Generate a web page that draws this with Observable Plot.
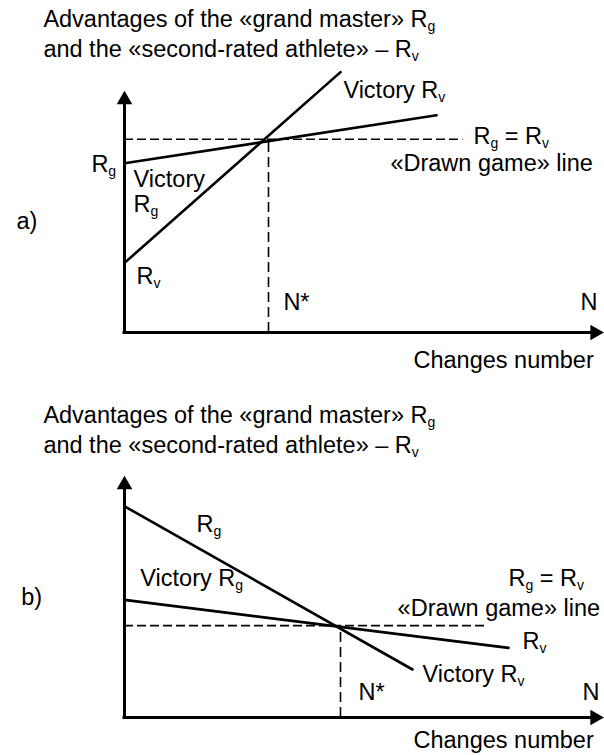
<!DOCTYPE html>
<html>
<head>
<meta charset="utf-8">
<script src="https://cdn.jsdelivr.net/npm/d3@7"></script>
<script src="https://cdn.jsdelivr.net/npm/@observablehq/plot@0.6"></script>
<style>
  html, body { margin: 0; padding: 0; background: #fff; }
  #chart { width: 604px; }
  #chart svg { display: block; font-family: "Liberation Sans", Arial, sans-serif; }
</style>
</head>
<body>
<div id="chart"></div>
<script>
// ---- Panel a: advantage lines (N = number of changes, R = advantage) ----
const aGrandMaster = [[0, 7.05], [6.5, 9.05]];   // R_g
const aSecondRated = [[0, 2.9], [4.5, 10.85]];   // R_v
const aDrawLevel = 8.05;       // R_g = R_v
const aDrawEnd = 7.05;
const aCritical = 3.0;         // N*
const aCriticalTop = 8.0;

// ---- Panel b ----
const bGrandMaster = [[0, 8.8], [6.0, 2.0]];     // R_g
const bSecondRated = [[0, 4.9], [8.0, 2.9]];     // R_v
const bDrawLevel = 3.83;
const bDrawEnd = 7.5;
const bCritical = 4.5;         // N*
const bCriticalTop = 3.83;

// ---- Texts ----
const axisTitle = ["Advantages of the «grand master» R_g", "and the «second-rated athlete» – R_v"];
const xTitle = "Changes number";

// Axis extents (data units) and arrow-head positions
const axisTop = 9.7, axisRight = 9.8;

// Annotation anchors, in data units (start-anchored, baseline at r)
const aNotes = [
  {text: axisTitle[0], n: -1.69, r: 12.71},
  {text: axisTitle[1], n: -1.69, r: 11.46},
  {text: "Victory R_v", n: 4.56, r: 9.79},
  {text: "R_g = R_v", n: 7.27, r: 7.875},
  {text: "«Drawn game» line", n: 5.54, r: 6.71},
  {text: "R_g", n: -0.69, r: 6.67},
  {text: "a)", n: -2.25, r: 4.33},
  {text: "Victory", n: 0.19, r: 6.05},
  {text: "R_g", n: 0.19, r: 5.04},
  {text: "R_v", n: 0.25, r: 2.04},
  {text: "N*", n: 3.31, r: 0.92},
  {text: "N", n: 9.5, r: 0.92},
  {text: xTitle, n: 6.02, r: -1.46}
];
const bNotes = [
  {text: axisTitle[0], n: -1.69, r: 12.29},
  {text: axisTitle[1], n: -1.69, r: 11.04},
  {text: "R_g", n: 1.5, r: 7.71},
  {text: "Victory R_g", n: 0.33, r: 5.5},
  {text: "R_g = R_v", n: 8.0, r: 5.5},
  {text: "«Drawn game» line", n: 5.69, r: 4.22},
  {text: "b)", n: -2.15, r: 4.67},
  {text: "R_v", n: 8.29, r: 2.875},
  {text: "Victory R_v", n: 6.21, r: 1.46},
  {text: "N*", n: 4.875, r: 0.71},
  {text: "N", n: 9.54, r: 0.71},
  {text: xTitle, n: 6.02, r: -1.29}
];

// Turn "R_g" style markers into real subscripts
function addSubscripts(svg) {
  const shift = 4;
  d3.select(svg).selectAll("text").each(function () {
    const t = this.textContent;
    if (!t.includes("_")) return;
    const sel = d3.select(this);
    sel.selectAll("*").remove();
    sel.text(null);
    const parts = t.split(/_(\S)/);
    let lowered = false;
    parts.forEach((p, i) => {
      if (!p) return;
      const ts = sel.append("tspan").text(p);
      if (i % 2 === 1) {
        ts.attr("font-size", 14).attr("dy", shift);
        lowered = true;
      } else if (lowered) {
        ts.attr("dy", -shift);
        lowered = false;
      }
    });
  });
}

function panel({height, marginTop, marginBottom, grand, second, drawLevel, drawEnd, critical, criticalTop, notes}) {
  const svg = Plot.plot({
    width: 604,
    height,
    marginLeft: 124,
    marginRight: 0,
    marginTop,
    marginBottom,
    x: {domain: [0, 10], axis: null},
    y: {domain: [0, 10], axis: null},
    marks: [
      // dashed "drawn game" guides
      Plot.ruleY([drawLevel], {x1: 0, x2: drawEnd, stroke: "black", strokeWidth: 1.6, strokeDasharray: "9,4"}),
      Plot.ruleX([critical], {y1: 0, y2: criticalTop, stroke: "black", strokeWidth: 1.6, strokeDasharray: "10,5"}),
      // advantage lines
      Plot.line(grand, {x: d => d[0], y: d => d[1], stroke: "black", strokeWidth: 2.6}),
      Plot.line(second, {x: d => d[0], y: d => d[1], stroke: "black", strokeWidth: 2.6}),
      // axes with arrow heads
      Plot.ruleX([0], {y1: 0, y2: axisTop, stroke: "black", strokeWidth: 3}),
      Plot.ruleY([0], {x1: 0, x2: axisRight, stroke: "black", strokeWidth: 3, strokeLinecap: "square"}),
      Plot.dot([[0, axisTop]], {x: d => d[0], y: d => d[1], symbol: "triangle", r: 5.8, fill: "black", stroke: null}),
      Plot.dot([[axisRight, 0]], {x: d => d[0], y: d => d[1], symbol: "triangle", r: 5.8, fill: "black", stroke: null, rotate: 90}),
      // labels
      Plot.text(notes, {x: "n", y: "r", text: "text", textAnchor: "start", lineAnchor: "bottom", fontSize: 23.5, fill: "black"})
    ]
  });
  addSubscripts(svg);
  return svg;
}

const chart = document.getElementById("chart");
chart.append(panel({
  height: 377, marginTop: 92, marginBottom: 45,
  grand: aGrandMaster, second: aSecondRated,
  drawLevel: aDrawLevel, drawEnd: aDrawEnd,
  critical: aCritical, criticalTop: aCriticalTop,
  notes: aNotes
}));
chart.append(panel({
  height: 378, marginTop: 100, marginBottom: 38,
  grand: bGrandMaster, second: bSecondRated,
  drawLevel: bDrawLevel, drawEnd: bDrawEnd,
  critical: bCritical, criticalTop: bCriticalTop,
  notes: bNotes
}));
</script>
</body>
</html>
